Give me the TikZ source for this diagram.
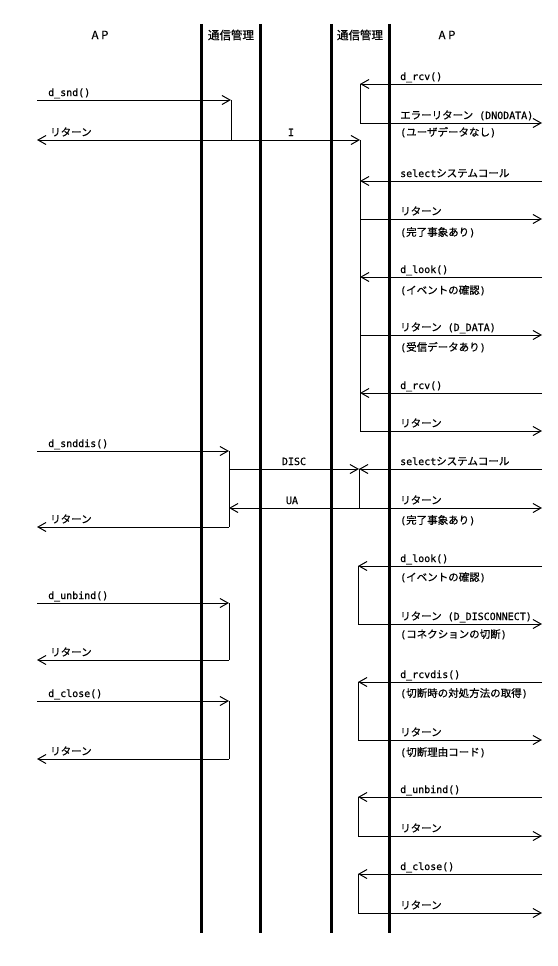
\documentclass[tikz,border=0pt]{standalone}
\usepackage{fontspec}
\setmainfont{Noto Sans CJK JP}[FakeBold=0.6]
\setmonofont{DejaVu Sans Mono}[Scale=0.95,FakeBold=0.6]
\usetikzlibrary{arrows.meta}
\newcommand\mt[1]{\texttt{#1}}
\begin{document}
\begin{tikzpicture}[x=1pt,y=-1pt,
  life/.style={line width=3pt},
  seg/.style={line width=1pt},
  msg/.style={seg,-{Straight Barb[length=8pt,width=9pt]}},
  lbl/.style={anchor=base west,inner sep=0pt,font=\fontsize{10.5}{12}\selectfont},
  clbl/.style={lbl,anchor=base},
  hdr/.style={inner sep=0pt,font=\fontsize{11.5}{13}\selectfont}]
\useasboundingbox (0,0) rectangle (557,966);

% lifelines
\foreach \n/\x in {1/201,2/260,3/331,4/389}{
  \coordinate (v\n t) at (\x,24);
  \coordinate (v\n b) at (\x,933);
  \draw[life] (v\n t) -- (v\n b);
}

% headers
\node[hdr] (hAP1) at (100,35) {A P};
\node[hdr] (hCM1) at (231,35) {通信管理};
\node[hdr] (hCM2) at (360,35) {通信管理};
\node[hdr] (hAP2) at (447,35) {A P};

% ---- left: d_snd
\coordinate (a1) at (37,100);  \coordinate (b1) at (231,100);
\coordinate (b1r) at (231,140); \coordinate (a1r) at (37,140);
\coordinate (i1) at (360,140);
\draw[msg] (a1) -- (b1);
\draw[seg] (b1) -- (b1r);
\draw[msg] (b1r) -- (a1r);
\draw[msg] (b1r) -- (i1);
\node[lbl] (t1) at (48,96) {\mt{d\_snd()}};
\node[lbl] (t2) at (50,136) {リターン};
\node[clbl] (t3) at (291,136) {\mt{I}};

% ---- right: d_rcv / error return
\coordinate (r1) at (542,84);  \coordinate (c1) at (360,84);
\coordinate (c1r) at (360,123); \coordinate (r1r) at (542,123);
\draw[msg] (r1) -- (c1);
\draw[seg] (c1) -- (c1r);
\draw[msg] (c1r) -- (r1r);
\node[lbl] (t4) at (400,80) {\mt{d\_rcv()}};
\node[lbl] (t5) at (400,119) {エラーリターン\mt{ (DNODATA)}};
\node[lbl] (t6) at (400,136) {\mt{(}ユーザデータなし\mt{)}};

% ---- right: long activation 140..431
\coordinate (c9) at (360,431);
\draw[seg] (i1) -- (c9);
\coordinate (r2) at (542,181); \coordinate (c2) at (360,181);
\coordinate (r3) at (542,219); \coordinate (c3) at (360,219);
\coordinate (r4) at (542,277); \coordinate (c4) at (360,277);
\coordinate (r5) at (542,335); \coordinate (c5) at (360,335);
\coordinate (r6) at (542,393); \coordinate (c6) at (360,393);
\coordinate (r9) at (542,431);
\draw[msg] (r2) -- (c2);
\draw[msg] (c3) -- (r3);
\draw[msg] (r4) -- (c4);
\draw[msg] (c5) -- (r5);
\draw[msg] (r6) -- (c6);
\draw[msg] (c9) -- (r9);
\node[lbl] (t7) at (400,177) {\mt{select}システムコール};
\node[lbl] (t8) at (400,215) {リターン};
\node[lbl] (t9) at (400,236) {\mt{(}完了事象あり\mt{)}};
\node[lbl] (t10) at (400,273) {\mt{d\_look()}};
\node[lbl] (t11) at (400,294) {\mt{(}イベントの確認\mt{)}};
\node[lbl] (t12) at (400,331) {リターン\mt{ (D\_DATA)}};
\node[lbl] (t13) at (400,351) {\mt{(}受信データあり\mt{)}};
\node[lbl] (t14) at (400,389) {\mt{d\_rcv()}};
\node[lbl] (t15) at (400,427) {リターン};

% ---- d_snddis / DISC / UA
\coordinate (a2) at (37,451);  \coordinate (b2) at (229,451);
\coordinate (b2d) at (229,469); \coordinate (b2u) at (229,508);
\coordinate (b2r) at (229,527); \coordinate (a2r) at (37,527);
\coordinate (c10) at (359,469); \coordinate (c11) at (359,508);
\coordinate (r10) at (542,469); \coordinate (r11) at (542,508);
\draw[msg] (a2) -- (b2);
\draw[seg] (b2) -- (b2r);
\draw[msg] (b2d) -- (c10);
\draw[msg] (r10) -- (c10);
\draw[seg] (c10) -- (c11);
\draw[msg] (c11) -- (b2u);
\draw[msg] (c11) -- (r11);
\draw[msg] (b2r) -- (a2r);
\node[lbl] (t16) at (48,447) {\mt{d\_snddis()}};
\node[clbl] (t17) at (294,465) {\mt{DISC}};
\node[clbl] (t18) at (292,504) {\mt{UA}};
\node[lbl] (t19) at (400,465) {\mt{select}システムコール};
\node[lbl] (t20) at (400,504) {リターン};
\node[lbl] (t21) at (400,524) {\mt{(}完了事象あり\mt{)}};
\node[lbl] (t22) at (50,523) {リターン};

% ---- left: d_unbind, d_close
\coordinate (a3) at (37,603);  \coordinate (b3) at (229,603);
\coordinate (b3r) at (229,660); \coordinate (a3r) at (37,660);
\coordinate (a4) at (37,701);  \coordinate (b4) at (229,701);
\coordinate (b4r) at (229,759); \coordinate (a4r) at (37,759);
\draw[msg] (a3) -- (b3);
\draw[seg] (b3) -- (b3r);
\draw[msg] (b3r) -- (a3r);
\draw[msg] (a4) -- (b4);
\draw[seg] (b4) -- (b4r);
\draw[msg] (b4r) -- (a4r);
\node[lbl] (t23) at (48,599) {\mt{d\_unbind()}};
\node[lbl] (t24) at (50,656) {リターン};
\node[lbl] (t25) at (48,697) {\mt{d\_close()}};
\node[lbl] (t26) at (50,755) {リターン};

% ---- right: lower loops
\foreach \k/\ya/\yb in {1/566/624,2/682/740,3/797/836,4/874/913}{
  \coordinate (rq\k) at (542,\ya); \coordinate (cq\k) at (358,\ya);
  \coordinate (cr\k) at (358,\yb); \coordinate (rr\k) at (542,\yb);
  \draw[msg] (rq\k) -- (cq\k);
  \draw[seg] (cq\k) -- (cr\k);
  \draw[msg] (cr\k) -- (rr\k);
}
\node[lbl] (t27) at (400,562) {\mt{d\_look()}};
\node[lbl] (t28) at (400,581) {\mt{(}イベントの確認\mt{)}};
\node[lbl] (t29) at (400,620) {リターン\mt{ (D\_DISCONNECT)}};
\node[lbl] (t30) at (400,638) {\mt{(}コネクションの切断\mt{)}};
\node[lbl] (t31) at (400,678) {\mt{d\_rcvdis()}};
\node[lbl] (t32) at (400,697) {\mt{(}切断時の対処方法の取得\mt{)}};
\node[lbl] (t33) at (400,736) {リターン};
\node[lbl] (t34) at (400,756) {\mt{(}切断理由コード\mt{)}};
\node[lbl] (t35) at (400,793) {\mt{d\_unbind()}};
\node[lbl] (t36) at (400,832) {リターン};
\node[lbl] (t37) at (400,870) {\mt{d\_close()}};
\node[lbl] (t38) at (400,909) {リターン};
\end{tikzpicture}
\end{document}
